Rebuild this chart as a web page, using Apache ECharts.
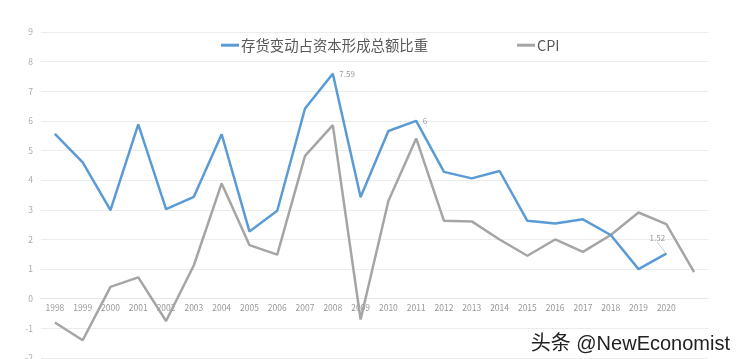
<!DOCTYPE html>
<html><head><meta charset="utf-8">
<script src="https://cdn.jsdelivr.net/npm/echarts@6/dist/echarts.min.js"></script>
<style>html,body{margin:0;padding:0;background:#fff}#c{width:740px;height:359px}</style>
</head><body><div id="c"></div>
<script>
const categories = ['1998','1999','2000','2001','2002','2003','2004','2005','2006','2007','2008','2009','2010','2011','2012','2013','2014','2015','2016','2017','2018','2019','2020',''];
const inventoryShare = [5.56,4.6,2.99,5.88,3.02,3.44,5.55,2.27,2.97,6.42,7.59,3.43,5.66,6,4.28,4.06,4.31,2.63,2.54,2.68,2.15,1.0,1.52,null];
const cpi = [-0.8,-1.4,0.4,0.72,-0.75,1.13,3.89,1.81,1.49,4.82,5.86,-0.7,3.3,5.41,2.63,2.61,2.0,1.45,2.0,1.58,2.15,2.91,2.52,0.9];
const yTicks = {min:-2, max:9, interval:1};
const seriesNames = ['存货变动占资本形成总额比重','CPI'];
const labeledPoints = {10:'right', 13:'right', 22:'leader'};

const H = 359, gridTop = 32, gridBottom = 1;
const unit = (H - gridTop - gridBottom) / (yTicks.max - yTicks.min);
const zeroOffset = -unit * (0 - yTicks.min);

const chart = echarts.init(document.getElementById('c'));
const blueData = inventoryShare.map((v,i)=>{
  if(labeledPoints[i]==='right') return {value:v, label:{show:true, position:'right', distance:6}, labelLine:{show:false}};
  if(labeledPoints[i]==='leader') return {value:v, label:{show:true, position:'top', distance:4}, labelLine:{show:true}};
  return v;
});
chart.setOption({
  animation:false,
  textStyle:{fontFamily:'"Noto Sans CJK SC", "Noto Sans", sans-serif'},
  legend:{
    left:216, top:33, icon:'rect', itemWidth:18, itemHeight:3, itemGap:89,
    textStyle:{fontSize:14.4, color:'#595959', padding:[0,0,0,-3]},
    data:seriesNames
  },
  grid:{left:41, right:32, top:gridTop, bottom:gridBottom, containLabel:false, outerBoundsMode:'none'},
  xAxis:{
    type:'category', data:categories, boundaryGap:true, position:'bottom', offset:zeroOffset,
    axisLine:{onZero:false, lineStyle:{color:'#e6e6e6'}},
    axisTick:{show:false},
    axisLabel:{fontSize:8.5, color:'#999', margin:5, interval:0}
  },
  yAxis:{
    type:'value', min:yTicks.min, max:yTicks.max, interval:yTicks.interval,
    axisLine:{show:false}, axisTick:{show:false},
    axisLabel:{fontSize:8.5, color:'#aaa', margin:8},
    splitLine:{lineStyle:{color:'#ececec', width:1}}
  },
  series:[
    {name:seriesNames[0], type:'line', data:blueData, symbol:'circle', symbolSize:1, showSymbol:true, smooth:false,
     lineStyle:{color:'#5B9BD5', width:2.5}, itemStyle:{color:'#5B9BD5'},
     label:{fontSize:8, color:'#999'},
     labelLayout:function(p){ return labeledPoints[p.dataIndex]==='leader' ? {dx:-9, dy:-7} : {}; },
     labelLine:{show:true, lineStyle:{color:'#c8c8c8', width:1}},
     z:3},
    {name:seriesNames[1], type:'line', data:cpi, symbol:'none',
     lineStyle:{color:'#A5A5A5', width:2.5}, itemStyle:{color:'#A5A5A5'}, z:2}
  ],
  graphic:[{type:'text', right:10, bottom:5, z:100,
    style:{text:'头条 @NewEconomist', fontSize:20, fill:'#222', fontFamily:'"Liberation Sans", "Noto Sans CJK SC", sans-serif'}}]
});
</script></body></html>
